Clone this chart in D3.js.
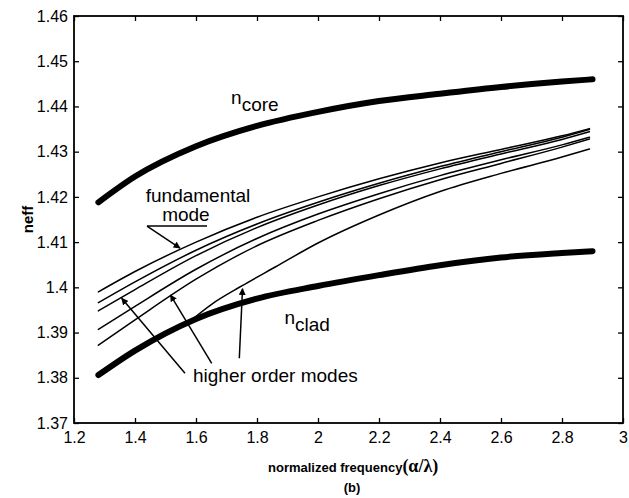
<!DOCTYPE html>
<html>
<head>
<meta charset="utf-8">
<script src="https://cdn.jsdelivr.net/npm/d3@7"></script>
<style>
  body { margin: 0; background: #fff; }
  svg text { font-family: "Liberation Sans", Arial, sans-serif; fill: #000; }
</style>
</head>
<body>
<div id="app"></div>
<script>
// frequency grid (a/lambda) for core / cladding index
const freq = [1.28, 1.4, 1.6, 1.8, 2.0, 2.2, 2.4, 2.6, 2.8, 2.9];
const nCore = [1.4188, 1.4245, 1.4312, 1.4357, 1.4388, 1.4412, 1.4428, 1.4443, 1.4455, 1.4460];
const nClad = [1.3806, 1.3860, 1.3930, 1.3975, 1.4003, 1.4027, 1.4049, 1.4066, 1.4076, 1.4080];

// guided modes
const modeFreq = [1.28, 1.4, 1.6, 1.8, 2.0, 2.2, 2.4, 2.6, 2.8, 2.89];
const modeA = [1.3990, 1.4035, 1.4100, 1.4155, 1.4200, 1.4240, 1.4275, 1.4305, 1.4335, 1.4351];
const modeB = [1.3966, 1.4012, 1.4082, 1.4140, 1.4188, 1.4230, 1.4267, 1.4300, 1.4332, 1.4349];
const modeC = [1.3948, 1.3995, 1.4070, 1.4132, 1.4182, 1.4225, 1.4262, 1.4295, 1.4327, 1.4344];
const modeD = [1.3907, 1.3958, 1.4040, 1.4108, 1.4162, 1.4207, 1.4247, 1.4282, 1.4315, 1.4332];
const modeE = [1.3872, 1.3928, 1.4018, 1.4092, 1.4148, 1.4196, 1.4238, 1.4274, 1.4310, 1.4328];
// mode that starts at cutoff on the cladding line
const cutFreq = [1.58, 1.65, 1.75, 1.86, 2.0, 2.2, 2.4, 2.6, 2.8, 2.89];
const modeF = [1.3925, 1.3962, 1.4003, 1.4045, 1.4098, 1.4160, 1.4212, 1.4252, 1.4288, 1.4306];

const xTicks = [1.2, 1.4, 1.6, 1.8, 2.0, 2.2, 2.4, 2.6, 2.8, 3.0];
const yTicks = [1.37, 1.38, 1.39, 1.40, 1.41, 1.42, 1.43, 1.44, 1.45, 1.46];

let width = 629;
let height = 498;
let margin = {top: 16, right: 6, bottom: 75, left: 74};

const x = d3.scaleLinear([1.2, 3], [margin.left, width - margin.right]);
const y = d3.scaleLinear([1.37, 1.46], [height - margin.bottom, margin.top]);

let svg = d3.select("#app")
  .append("svg")
  .attr("width", width)
  .attr("height", height);

// axes, matlab style ticks pointing inwards on all four sides
const fx = d => String(+d.toFixed(1));
const fy = d => String(+d.toFixed(2));

svg.append("g")
  .attr("transform", `translate(0,${height - margin.bottom})`)
  .call(d3.axisBottom(x).tickValues(xTicks).tickFormat(fx).tickSizeInner(-5).tickSizeOuter(0).tickPadding(9))
  .call(g => g.selectAll("text").attr("font-size", 16));
svg.append("g")
  .attr("transform", `translate(0,${margin.top})`)
  .call(d3.axisTop(x).tickValues(xTicks).tickFormat("").tickSizeInner(-5).tickSizeOuter(0));
svg.append("g")
  .attr("transform", `translate(${margin.left},0)`)
  .call(d3.axisLeft(y).tickValues(yTicks).tickFormat(fy).tickSizeInner(-5).tickSizeOuter(0).tickPadding(6))
  .call(g => g.selectAll("text").attr("font-size", 16));
svg.append("g")
  .attr("transform", `translate(${width - margin.right},0)`)
  .call(d3.axisRight(y).tickValues(yTicks).tickFormat("").tickSizeInner(-5).tickSizeOuter(0));

svg.selectAll(".domain").remove();
svg.selectAll(".tick line").attr("stroke", "#000").attr("stroke-width", 1.3);

svg.append("rect")
  .attr("x", margin.left)
  .attr("y", margin.top)
  .attr("width", width - margin.left - margin.right)
  .attr("height", height - margin.top - margin.bottom)
  .attr("fill", "none")
  .attr("stroke", "#000")
  .attr("stroke-width", 1.8);

// curves
const line = d3.line()
  .x(d => x(d[0]))
  .y(d => y(d[1]))
  .curve(d3.curveMonotoneX);

const zip = (xs, ys) => xs.map((v, i) => [v, ys[i]]);

let curves = svg.append("g").attr("fill", "none").attr("stroke", "#000").attr("stroke-linecap", "round");

[modeA, modeB, modeC, modeD, modeE].forEach(m => {
  curves.append("path").attr("d", line(zip(modeFreq, m))).attr("stroke-width", 1.5);
});
curves.append("path").attr("d", line(zip(cutFreq, modeF))).attr("stroke-width", 1.5);

curves.append("path").attr("d", line(zip(freq, nCore))).attr("stroke-width", 6);
curves.append("path").attr("d", line(zip(freq, nClad))).attr("stroke-width", 6);

// arrow heads
svg.append("defs").append("marker")
  .attr("id", "head")
  .attr("viewBox", "0 0 10 10")
  .attr("refX", 9).attr("refY", 5)
  .attr("markerWidth", 7).attr("markerHeight", 7)
  .attr("markerUnits", "userSpaceOnUse")
  .attr("orient", "auto")
  .append("path")
  .attr("d", "M0,0L10,5L0,10z")
  .attr("fill", "#000");

let notes = svg.append("g");

function arrow(x1, y1, x2, y2) {
  notes.append("line")
    .attr("x1", x(x1)).attr("y1", y(y1))
    .attr("x2", x(x2)).attr("y2", y(y2))
    .attr("stroke", "#000").attr("stroke-width", 1.5)
    .attr("marker-end", "url(#head)");
}

// n_core
let tCore = notes.append("text").attr("x", x(1.715)).attr("y", y(1.4405)).attr("font-size", 19);
tCore.append("tspan").text("n");
tCore.append("tspan").attr("dy", 7).text("core");

// n_clad
let tClad = notes.append("text").attr("x", x(1.89)).attr("y", y(1.3919)).attr("font-size", 19);
tClad.append("tspan").text("n");
tClad.append("tspan").attr("dy", 7).text("clad");

// fundamental mode
notes.append("text").attr("x", x(1.6066)).attr("y", y(1.4189))
  .attr("text-anchor", "middle").attr("font-size", 19).text("fundamental");
notes.append("text").attr("x", x(1.567)).attr("y", y(1.4147))
  .attr("text-anchor", "middle").attr("font-size", 19).text("mode");
notes.append("line")
  .attr("x1", x(1.4393)).attr("x2", x(1.6361))
  .attr("y1", y(1.41355)).attr("y2", y(1.41355))
  .attr("stroke", "#000").attr("stroke-width", 1.5);
arrow(1.4393, 1.41355, 1.5475, 1.40869);

// higher order modes
notes.append("text").attr("x", x(1.5902)).attr("y", y(1.37906))
  .attr("font-size", 19).text("higher order modes");
arrow(1.5639, 1.38099, 1.3564, 1.39757);
arrow(1.6515, 1.3832, 1.5164, 1.3983);
arrow(1.742, 1.3843, 1.7525, 1.3997);

// axis titles
let xl = svg.append("text")
  .attr("x", 268).attr("y", 472)
  .attr("font-size", 13).attr("font-weight", "bold");
xl.append("tspan").text("normalized frequency");
xl.append("tspan").attr("font-size", 18).attr("font-family", "'Liberation Serif', serif").text("(\u03b1/\u03bb)");

svg.append("text")
  .attr("x", 352).attr("y", 492)
  .attr("text-anchor", "middle")
  .attr("font-size", 13).attr("font-weight", "bold")
  .text("(b)");

svg.append("text")
  .attr("transform", `translate(33,${(margin.top + height - margin.bottom) / 2}) rotate(-90)`)
  .attr("text-anchor", "middle")
  .attr("font-size", 15)
  .attr("font-weight", "bold")
  .text("neff");
</script>
</body>
</html>
